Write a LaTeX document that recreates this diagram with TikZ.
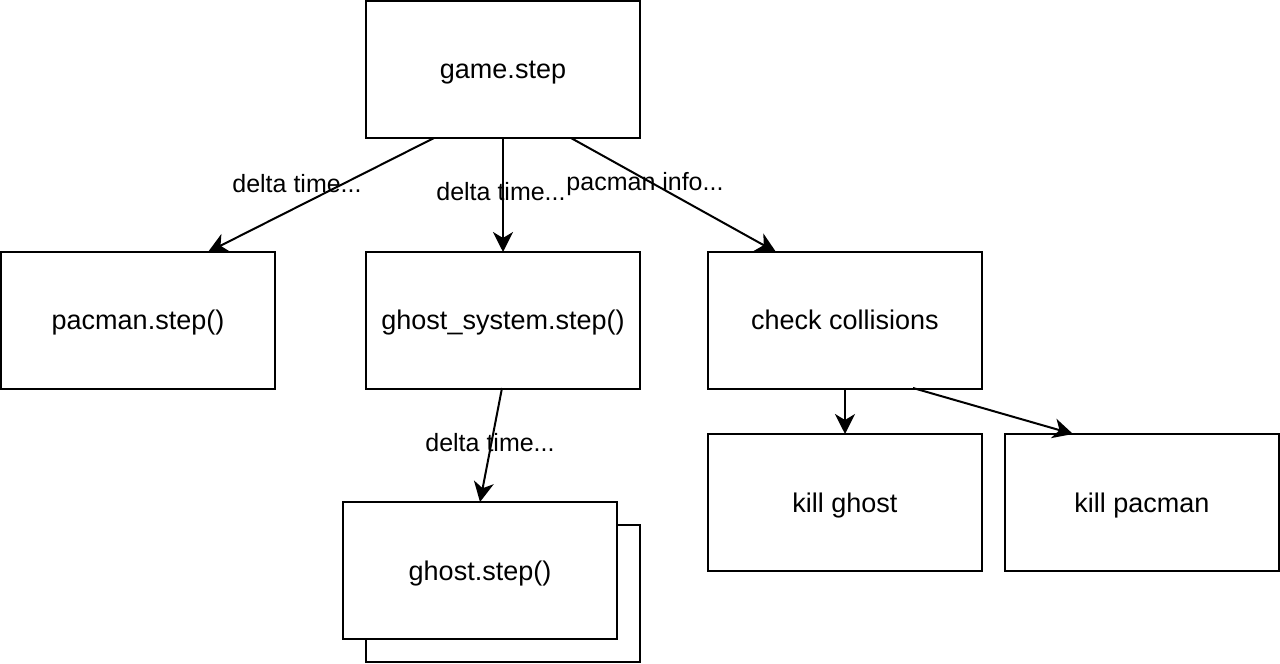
\documentclass[tikz,border=0pt]{standalone}
\usepackage{fontspec}
\setmainfont{Liberation Sans}
\usetikzlibrary{arrows.meta}
\begin{document}
\begin{tikzpicture}[x=1pt,y=-1pt,
  box/.style={draw=black,line width=2pt,fill=white,minimum width=274pt,minimum height=137pt,inner sep=0pt,text depth=0pt,font=\fontsize{27}{32}\selectfont},
  conn/.style={draw=black,line width=2pt,-{Stealth[length=20pt,width=20pt,inset=6pt]}},
  lbl/.style={font=\fontsize{25}{30}\selectfont,inner sep=0pt}]
\useasboundingbox (0,0) rectangle (1280,664);
\node[box] (game) at (503,69.5) {game.step};
\node[box] (pac) at (138,320) {pacman.step()};
\node[box] (gs) at (503,320) {ghost\_system.step()};
\node[box] (cc) at (845,320) {check collisions};
\node[box] (kg) at (845,502.5) {kill ghost};
\node[box] (kp) at (1142,502.5) {kill pacman};
\node[box] (gback) at (503,593.5) {};
\node[box] (ghost) at (480,570.5) {ghost.step()};
\coordinate (g1) at (434,138);
\coordinate (g2) at (503,138);
\coordinate (g3) at (571,138);
\coordinate (p1) at (208,252);
\coordinate (s1) at (503,252);
\coordinate (c1) at (776,252);
\coordinate (s2) at (502,388);
\coordinate (h1) at (480,502);
\coordinate (cc1) at (845,388);
\coordinate (cc2) at (913,388);
\coordinate (kg1) at (845,434);
\coordinate (kp1) at (1073,434);
\draw[conn] (g1) -- (p1);
\draw[conn] (g2) -- (s1);
\draw[conn] (g3) -- (c1);
\draw[conn] (s2) -- (h1);
\draw[conn] (cc1) -- (kg1);
\draw[conn] (cc2) -- (kp1);
\node[lbl] (l1) at (297,184) {delta time...};
\node[lbl] (l2) at (501,192) {delta time...};
\node[lbl] (l3) at (645,184) {pacman info...};
\node[lbl] (l4) at (490,443) {delta time...};
\end{tikzpicture}
\end{document}
